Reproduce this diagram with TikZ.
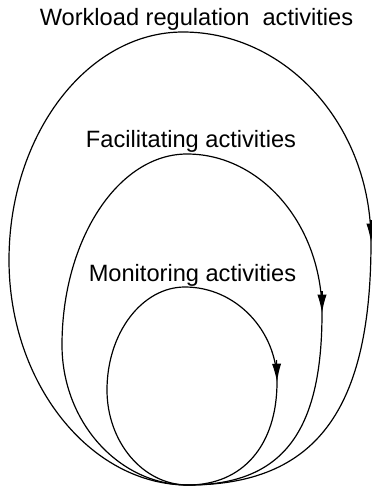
\documentclass[tikz,border=0pt]{standalone}
\usepackage{fontspec}
\setmainfont{Liberation Sans}
\usetikzlibrary{arrows.meta}

\begin{document}
\begin{tikzpicture}[x=0.025cm,y=-0.025cm,
    ring/.style={line width=0.85pt},
    tip/.style={-{Latex[length=13pt,width=6.5pt]}},
    tag/.style={anchor=base,inner sep=0pt,font=\fontsize{16.8}{20}\selectfont}]
  \useasboundingbox (0,0) rectangle (372,487);
  \coordinate (bottom) at (188,485);

  % labels above each loop
  \node[tag] (workload) at (196.5,25) {Workload regulation\ \ activities};
  \node[tag] (facilitating) at (191,147) {Facilitating activities};
  \node[tag] (monitoring) at (192.5,281) {Monitoring activities};

  % outer loop
  \draw[ring] (bottom) .. controls (90,485) and (9,383) .. (9,260)
    .. controls (9,135) and (87,32) .. (183,32)
    .. controls (286,32) and (371,125) .. (371,242)
    .. controls (371,410) and (316,485) .. (bottom);
  \draw[ring,tip] (371,220) -- (371,242);

  % middle loop
  \draw[ring] (bottom) .. controls (119,485) and (62,422) .. (62,345)
    .. controls (62,240) and (118,154) .. (187,154)
    .. controls (261,154) and (322,225) .. (322,313)
    .. controls (322,433) and (282,485) .. (bottom);
  \draw[ring,tip] (322,291) -- (322,313);

  % inner loop
  \draw[ring] (bottom) .. controls (143,485) and (107,442) .. (107,390)
    .. controls (107,333) and (142,287) .. (185,287)
    .. controls (236,287) and (277,331) .. (277,382)
    .. controls (277,445) and (243,485) .. (bottom);
  \draw[ring,tip] (276.5,360) -- (277,382);
\end{tikzpicture}
\end{document}
